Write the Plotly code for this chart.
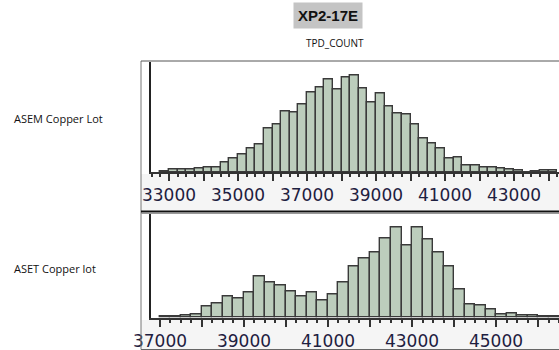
import plotly.graph_objects as go

W, H = 559, 350

# Bin starts (width 250) and counts for each lot
asem_bins = [32750 + 250 * i for i in range(46)]
asem_counts = [2, 8, 8, 8, 12, 15, 15, 29, 42, 53, 72, 84, 130, 143, 182, 180, 203,
               240, 255, 278, 249, 283, 289, 252, 210, 236, 197, 175, 173, 143, 102,
               87, 72, 42, 45, 20, 19, 13, 13, 12, 9, 5, 0, 2, 6, 6]
aset_bins = [37000 + 250 * i for i in range(38)]
aset_counts = [4, 4, 7, 10, 32, 41, 64, 56, 74, 123, 104, 97, 79, 63, 75, 51, 69, 104,
               154, 177, 195, 237, 269, 217, 269, 234, 195, 152, 84, 39, 36, 25, 10, 13,
               5, 7, 4, 4]
bin_width = 250

asem_ticks = list(range(33000, 45000, 1000))
asem_ticktext = [str(v) if (v - 33000) % 2000 == 0 else "" for v in asem_ticks]
aset_ticks = list(range(37000, 47000, 1000))
aset_ticktext = [str(v) if (v - 37000) % 2000 == 0 else "" for v in aset_ticks]

title = "XP2-17E"
subtitle = "TPD_COUNT"
row_labels = ["ASEM Copper Lot", "ASET Copper lot"]

def px(x):
    return x / W

def py(y):
    return 1 - y / H

fill = "#bccdbc"
edge = "#3a3a3a"

fig = go.Figure()
fig.add_trace(go.Bar(x=[b + bin_width / 2 for b in asem_bins], y=asem_counts, width=bin_width,
                     marker=dict(color=fill, line=dict(color=edge, width=1.4)),
                     xaxis="x", yaxis="y", showlegend=False))
fig.add_trace(go.Bar(x=[b + bin_width / 2 for b in aset_bins], y=aset_counts, width=bin_width,
                     marker=dict(color=fill, line=dict(color=edge, width=1.4)),
                     xaxis="x2", yaxis="y2", showlegend=False))

tickfont = dict(family="DejaVu Sans", size=17, color="#1e2040")
common_x = dict(showgrid=False, zeroline=False, showline=True, linecolor="#333333", linewidth=2,
                ticks="outside", ticklen=7, tickwidth=1.5, tickcolor="#333333",
                tickfont=tickfont, fixedrange=True, automargin=False,
                minor=dict(dtick=250, ticks="outside", ticklen=3, tickwidth=1.5, tickcolor="#333333",
                           showgrid=False))
common_y = dict(showgrid=False, zeroline=False, showline=True, linecolor="#222222", linewidth=2,
                ticks="", showticklabels=False, fixedrange=True, automargin=False)

# Shapes (decoration)
shapes = [
    dict(type="rect", xref="paper", yref="paper", x0=px(141), x1=px(559), y0=py(211), y1=py(174),
         fillcolor="#f5f5f5", line=dict(width=0), layer="below"),
    dict(type="rect", xref="paper", yref="paper", x0=px(141), x1=px(559), y0=py(349), y1=py(320),
         fillcolor="#f5f5f5", line=dict(width=0), layer="below"),
    dict(type="line", xref="paper", yref="paper", x0=px(141), x1=px(141), y0=py(61), y1=py(349.5),
         line=dict(color="#777777", width=1)),
    dict(type="line", xref="paper", yref="paper", x0=px(141), x1=px(559), y0=py(61), y1=py(61),
         line=dict(color="#555555", width=1)),
    dict(type="line", xref="paper", yref="paper", x0=px(141), x1=px(559), y0=py(211.5), y1=py(211.5),
         line=dict(color="#111111", width=2)),
    dict(type="line", xref="paper", yref="paper", x0=px(141), x1=px(559), y0=py(213.5), y1=py(213.5),
         line=dict(color="#999999", width=1)),
    dict(type="line", xref="paper", yref="paper", x0=px(141), x1=px(559), y0=py(349.5), y1=py(349.5),
         line=dict(color="#666666", width=1)),
]

annotations = [
    dict(text="<b>" + title + "</b>", xref="paper", yref="paper", x=px(328), y=py(16),
         showarrow=False, font=dict(family="Liberation Sans Narrow, Liberation Sans", size=15, color="#111111"),
         bgcolor="#c4c4c4", borderpad=4, xanchor="center", yanchor="middle"),
    dict(text=subtitle, xref="paper", yref="paper", x=px(335), y=py(43),
         showarrow=False, font=dict(family="Open Sans", size=10, color="#111111"),
         xanchor="center", yanchor="middle"),
    dict(text=row_labels[0], xref="paper", yref="paper", x=px(12), y=py(118),
         showarrow=False, font=dict(family="Open Sans", size=11, color="#111111"),
         xanchor="left", yanchor="middle"),
    dict(text=row_labels[1], xref="paper", yref="paper", x=px(12), y=py(268),
         showarrow=False, font=dict(family="Open Sans", size=11, color="#111111"),
         xanchor="left", yanchor="middle"),
]

fig.update_layout(
    template="none",
    width=W, height=H, margin=dict(l=0, r=0, t=0, b=0, pad=0, autoexpand=False),
    paper_bgcolor="white", plot_bgcolor="white", bargap=0, showlegend=False,
    xaxis=dict(domain=[px(151), 1], range=[32478, 44304], anchor="y",
               tickmode="array", tickvals=asem_ticks, ticktext=asem_ticktext, **common_x),
    yaxis=dict(domain=[py(172), py(61.5)], range=[0, 332], anchor="x", **common_y),
    xaxis2=dict(domain=[px(151), 1], range=[36786, 46500], anchor="y2",
                tickmode="array", tickvals=aset_ticks, ticktext=aset_ticktext, **common_x),
    yaxis2=dict(domain=[py(317.5), py(213.5)], range=[0, 312], anchor="x2", **common_y),
    shapes=shapes, annotations=annotations,
)

fig.write_html("out.html")
